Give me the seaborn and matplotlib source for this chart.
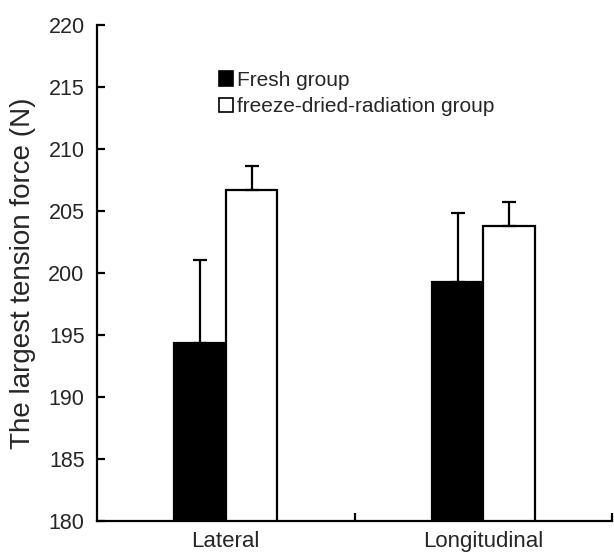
import matplotlib
matplotlib.use("Agg")
import matplotlib.pyplot as plt
import seaborn as sns
import pandas as pd
import numpy as np
from matplotlib.patches import Patch

categories = ["Lateral", "Longitudinal"]
groups = ["Fresh group", "freeze-dried-radiation group"]
fresh_mean = [194.4, 199.35]
fresh_sd = [6.7, 5.5]
fdr_mean = [206.7, 203.8]
fdr_sd = [2.0, 2.0]
yticks = [180, 185, 190, 195, 200, 205, 210, 215, 220]

df = pd.DataFrame({
    "direction": categories * 2,
    "group": [groups[0]] * 2 + [groups[1]] * 2,
    "force": fresh_mean + fdr_mean,
    "sd": fresh_sd + fdr_sd,
})

sns.set_theme(style="white")
plt.rcParams["font.family"] = ["Liberation Sans", "DejaVu Sans"]

fig = plt.figure(figsize=(6.14, 5.53), dpi=100)
ax = fig.add_axes([0.158, 0.057, 0.839, 0.897])

sns.barplot(data=df, x="direction", y="force", hue="group", order=categories,
            hue_order=groups, palette={groups[0]: "black", groups[1]: "white"},
            width=0.4, edgecolor="black", linewidth=1.6, errorbar=None, ax=ax,
            legend=False)

# error bars (upper only)
for cont, g in zip(ax.containers, groups):
    sub = df[df.group == g].set_index("direction").loc[categories]
    xs = [p.get_x() + p.get_width() / 2 for p in cont.patches]
    ax.errorbar(xs, sub["force"].values,
                yerr=[np.zeros(len(xs)), sub["sd"].values],
                fmt="none", ecolor="black", elinewidth=1.6, capsize=5,
                capthick=1.6)

ax.set_ylim(180, 220)
ax.set_xlim(-0.5, 1.5)
ax.set_yticks(yticks)
ax.set_yticklabels([str(t) for t in yticks], fontsize=15.5)
ax.set_xticks([0, 1])
ax.set_xticklabels(categories, fontsize=16)
ax.set_xticks([0.5, 1.5], minor=True)
ax.tick_params(axis="x", which="major", length=0, pad=7)
ax.tick_params(axis="x", which="minor", direction="in", length=6, width=1.6,
               color="black", bottom=True)
ax.tick_params(axis="y", direction="in", length=6, width=1.6, color="black",
               left=True, pad=9)
ax.set_xlabel("")
ax.set_ylabel("The largest tension force (N)", fontsize=20, labelpad=9)

for s in ["top", "right"]:
    ax.spines[s].set_visible(False)
for s in ["left", "bottom"]:
    ax.spines[s].set_color("black")
    ax.spines[s].set_linewidth(1.6)

handles = [Patch(facecolor="black", edgecolor="black", linewidth=1.2),
           Patch(facecolor="white", edgecolor="black", linewidth=1.2)]
ax.legend(handles, groups, loc="upper left", bbox_to_anchor=(0.22, 0.925),
          frameon=False, fontsize=15, handlelength=0.7, handleheight=0.7,
          handletextpad=0.2, labelspacing=0.35, borderaxespad=0)

fig.savefig("out.png", dpi=100)
